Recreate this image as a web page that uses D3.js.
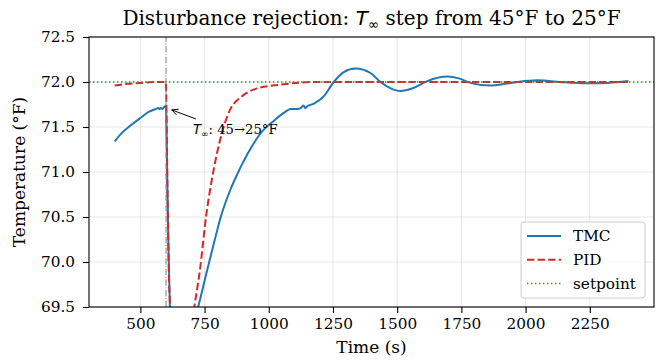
<html>
<head>
<meta charset="utf-8">
<title>Disturbance rejection</title>
<style>
body { margin: 0; background: #fff; }
text { font-family: "DejaVu Serif", serif; fill: #000; }
</style>
</head>
<body>
<svg width="662" height="362"></svg>
<script src="https://d3js.org/d3.v7.min.js"></script>
<script>

// TMC response (time s, temperature F)
var tmcT = [400, 430, 463, 500, 534, 560, 570, 575, 580, 586, 592, 597, 600, 605, 610, 615, 625, 640, 660, 680, 700, 725, 761, 790, 813, 850, 888, 917, 968, 1020, 1060, 1085, 1110, 1124, 1135, 1142, 1150, 1176, 1214, 1253, 1292, 1338, 1396, 1435, 1475, 1513, 1560, 1617, 1695, 1740, 1785, 1862, 1920, 1967, 2045, 2134, 2239, 2320, 2400];
var tmcV = [71.34, 71.44, 71.52, 71.60, 71.67, 71.70, 71.71, 71.70, 71.71, 71.70, 71.72, 71.73, 71.70, 70.9, 70.1, 69.5, 69.0, 68.85, 68.9, 69.05, 69.25, 69.5, 69.92, 70.25, 70.5, 70.8, 71.04, 71.2, 71.43, 71.57, 71.66, 71.70, 71.70, 71.71, 71.74, 71.71, 71.73, 71.76, 71.84, 72.0, 72.11, 72.15, 72.10, 72.0, 71.93, 71.90, 71.93, 72.01, 72.06, 72.04, 71.99, 71.96, 71.98, 72.0, 72.02, 72.0, 71.985, 71.99, 72.01];

// PID response
var pidT = [400, 450, 500, 550, 598, 600, 605, 610, 618, 630, 645, 665, 690, 710, 732, 756, 778, 810, 849, 891, 956, 1046, 1176, 1400, 2400];
var pidV = [71.96, 71.98, 71.99, 72.0, 72.0, 71.95, 70.9, 70.0, 69.4, 68.95, 68.8, 68.85, 69.1, 69.5, 69.91, 70.51, 70.91, 71.35, 71.69, 71.83, 71.93, 71.97, 72.0, 72.0, 72.0];

var setpoint = 72.0;
var stepTime = 600;
var xTicks = [500, 750, 1000, 1250, 1500, 1750, 2000, 2250];
var yTicks = [69.5, 70.0, 70.5, 71.0, 71.5, 72.0, 72.5];
var seriesNames = ["TMC", "PID", "setpoint"];

var svg = d3.select("svg"),
    width = +svg.attr("width"),
    height = +svg.attr("height"),
    margin = {top: 37, right: 8, bottom: 55, left: 89};

var x = d3.scaleLinear().domain([300, 2500]).range([margin.left, width - margin.right]);
var y = d3.scaleLinear().domain([69.5, 72.5]).range([height - margin.bottom, margin.top]);

svg.append("clipPath").attr("id", "plot")
  .append("rect")
    .attr("x", margin.left).attr("y", margin.top)
    .attr("width", x.range()[1] - x.range()[0])
    .attr("height", y.range()[0] - y.range()[1]);

// grid
var grid = svg.append("g").attr("stroke", "#b0b0b0").attr("stroke-opacity", 0.3).attr("stroke-width", 1);
grid.selectAll(".gx").data(xTicks).enter().append("line")
    .attr("x1", function(d) { return x(d); }).attr("x2", function(d) { return x(d); })
    .attr("y1", y.range()[0]).attr("y2", y.range()[1]);
grid.selectAll(".gy").data(yTicks).enter().append("line")
    .attr("y1", function(d) { return y(d); }).attr("y2", function(d) { return y(d); })
    .attr("x1", x.range()[0]).attr("x2", x.range()[1]);

var plot = svg.append("g").attr("clip-path", "url(#plot)");

var line = d3.line()
    .x(function(d) { return x(d[0]); })
    .y(function(d) { return y(d[1]); })
    .curve(d3.curveMonotoneX);

plot.append("path")
    .datum(d3.zip(tmcT, tmcV))
    .attr("fill", "none").attr("stroke", "#1f77b4").attr("stroke-width", 2)
    .attr("d", line);

plot.append("path")
    .datum(d3.zip(pidT, pidV))
    .attr("fill", "none").attr("stroke", "#d62728").attr("stroke-width", 2)
    .attr("stroke-dasharray", "7.4,3.2")
    .attr("d", line);

plot.append("line")
    .attr("x1", x.range()[0]).attr("x2", x.range()[1])
    .attr("y1", y(setpoint)).attr("y2", y(setpoint))
    .attr("stroke", "#2ca02c").attr("stroke-width", 1.5)
    .attr("stroke-dasharray", "1.5,2.5");

plot.append("line")
    .attr("x1", x(stepTime)).attr("x2", x(stepTime))
    .attr("y1", y.range()[0]).attr("y2", y.range()[1])
    .attr("stroke", "#808080").attr("stroke-width", 1)
    .attr("stroke-dasharray", "6.4,1.6,1,1.6");

// axes
var xAxis = svg.append("g")
    .attr("transform", "translate(0," + y.range()[0] + ")")
    .call(d3.axisBottom(x).tickValues(xTicks).tickSize(6).tickPadding(5).tickFormat(d3.format("d")));
var yAxis = svg.append("g")
    .attr("transform", "translate(" + x.range()[0] + ",0)")
    .call(d3.axisLeft(y).tickValues(yTicks).tickSize(6).tickPadding(8).tickFormat(d3.format(".1f")));
[xAxis, yAxis].forEach(function(a) {
  a.select(".domain").remove();
  a.selectAll("line").attr("stroke", "#000").attr("stroke-width", 1.1);
  a.selectAll("text").attr("font-family", "DejaVu Serif").attr("font-size", 15.3).attr("fill", "#000");
});

svg.append("rect")
    .attr("x", x.range()[0]).attr("y", y.range()[1])
    .attr("width", x.range()[1] - x.range()[0])
    .attr("height", y.range()[0] - y.range()[1])
    .attr("fill", "none").attr("stroke", "#000").attr("stroke-width", 1.1);

// annotation
var arrowHead = [622, 71.69], arrowTail = [716, 71.59];
svg.append("line")
    .attr("x1", x(arrowTail[0])).attr("y1", y(arrowTail[1]))
    .attr("x2", x(arrowHead[0])).attr("y2", y(arrowHead[1]))
    .attr("stroke", "#000").attr("stroke-width", 1);
var ang = Math.atan2(y(arrowTail[1]) - y(arrowHead[1]), x(arrowTail[0]) - x(arrowHead[0]));
svg.append("path")
    .attr("d", "M" + (x(arrowHead[0]) + 7 * Math.cos(ang + 0.45)) + "," + (y(arrowHead[1]) + 7 * Math.sin(ang + 0.45)) +
               "L" + x(arrowHead[0]) + "," + y(arrowHead[1]) +
               "L" + (x(arrowHead[0]) + 7 * Math.cos(ang - 0.45)) + "," + (y(arrowHead[1]) + 7 * Math.sin(ang - 0.45)))
    .attr("fill", "none").attr("stroke", "#000").attr("stroke-width", 1);

var ann = svg.append("text")
    .attr("x", x(705)).attr("y", y(71.42))
    .attr("font-size", 13.2);
ann.append("tspan").attr("font-family", "DejaVu Sans").attr("font-style", "italic").text("T");
ann.append("tspan").attr("font-family", "DejaVu Sans").attr("font-size", 9).attr("dy", 2.5).text("∞");
ann.append("tspan").attr("dy", -2.5).text(": 45→25°F");

// title
var title = svg.append("text")
    .attr("x", (x.range()[0] + x.range()[1]) / 2).attr("y", 25)
    .attr("text-anchor", "middle").attr("font-size", 20);
title.append("tspan").text("Disturbance rejection: ");
title.append("tspan").attr("font-family", "DejaVu Sans").attr("font-style", "italic").text("T");
title.append("tspan").attr("font-family", "DejaVu Sans").attr("font-size", 13.5).attr("dy", 3.8).text("∞");
title.append("tspan").attr("dy", -3.8).text(" step from 45°F to 25°F");

// axis labels
svg.append("text")
    .attr("x", (x.range()[0] + x.range()[1]) / 2).attr("y", 353)
    .attr("text-anchor", "middle").attr("font-size", 17)
    .text("Time (s)");
svg.append("text")
    .attr("transform", "translate(25," + (y.range()[0] + y.range()[1]) / 2 + ") rotate(-90)")
    .attr("text-anchor", "middle").attr("font-size", 17)
    .text("Temperature (°F)");

// legend
var legend = svg.append("g").attr("transform", "translate(521,222)");
legend.append("rect")
    .attr("width", 124).attr("height", 76).attr("rx", 3)
    .attr("fill", "#fff").attr("fill-opacity", 0.8)
    .attr("stroke", "#cccccc").attr("stroke-width", 1);
var styles = [
  {color: "#1f77b4", dash: null, w: 2},
  {color: "#d62728", dash: "7.4,3.2", w: 2},
  {color: "#2ca02c", dash: "1.5,2.5", w: 1.5}
];
var item = legend.selectAll(".item").data(seriesNames).enter().append("g")
    .attr("transform", function(d, i) { return "translate(0," + (14 + i * 23.7) + ")"; });
item.append("line")
    .attr("x1", 6).attr("x2", 40)
    .attr("stroke", function(d, i) { return styles[i].color; })
    .attr("stroke-width", function(d, i) { return styles[i].w; })
    .attr("stroke-dasharray", function(d, i) { return styles[i].dash; });
item.append("text")
    .attr("x", 52).attr("dy", "0.35em").attr("font-size", 15.3)
    .text(function(d) { return d; });

</script>
</body>
</html>
